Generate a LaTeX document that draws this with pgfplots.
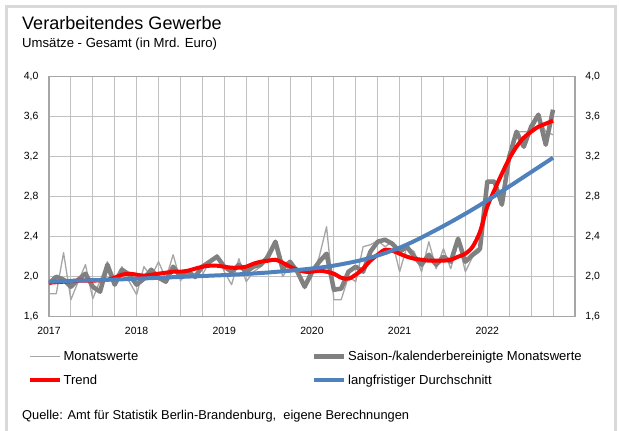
\documentclass[border=0pt]{standalone}
\usepackage{pgfplots}
\pgfplotsset{compat=1.18}
\usepackage{pgfplotstable}
\usepackage{fontspec}
\setmainfont{Liberation Sans}

\definecolor{mwgray}{HTML}{A6A6A6}
\definecolor{sagray}{HTML}{808080}
\definecolor{trred}{HTML}{FF0000}
\definecolor{lfblue}{HTML}{4F81BD}
\definecolor{gridgray}{HTML}{C0C0C0}
\definecolor{axisgray}{HTML}{A6A6A6}
\definecolor{framegray}{HTML}{D9D9D9}

% m = Monat ab Jan 2017; mw = Monatswerte, sa = saison-/kalenderbereinigt,
% tr = Trend, lf = langfristiger Durchschnitt
\pgfplotstableread{
m mw sa tr lf
0 1.83 1.93 1.94 1.950
1 1.83 2.00 1.945 1.953
2 2.24 1.97 1.95 1.956
3 1.77 1.90 1.955 1.959
4 1.95 1.97 1.96 1.961
5 2.12 2.03 1.96 1.963
6 1.78 1.90 1.96 1.965
7 1.96 1.85 1.965 1.967
8 2.15 2.12 1.97 1.969
9 1.98 1.92 1.99 1.972
10 2.10 2.07 2.02 1.974
11 1.95 2.02 2.03 1.977
12 1.82 1.92 2.02 1.980
13 2.10 1.98 2.01 1.983
14 2.00 2.07 2.02 1.986
15 2.15 1.99 2.03 1.989
16 1.98 1.95 2.04 1.992
17 2.22 2.10 2.05 1.995
18 1.96 2.00 2.05 1.998
19 2.05 2.05 2.06 2.001
20 1.98 2.00 2.08 2.004
21 2.02 2.10 2.10 2.007
22 2.15 2.15 2.11 2.010
23 2.22 2.20 2.11 2.013
24 2.05 2.10 2.10 2.016
25 1.92 2.05 2.09 2.020
26 2.18 2.12 2.09 2.024
27 1.95 2.05 2.10 2.028
28 2.05 2.10 2.13 2.032
29 2.10 2.12 2.15 2.037
30 2.25 2.20 2.16 2.042
31 2.30 2.35 2.17 2.048
32 2.00 2.08 2.14 2.054
33 2.12 2.15 2.10 2.060
34 2.05 2.05 2.07 2.067
35 1.88 1.90 2.05 2.074
36 2.00 2.05 2.05 2.082
37 2.20 2.15 2.06 2.090
38 2.50 2.23 2.05 2.100
39 1.77 1.87 2.03 2.111
40 1.77 1.88 1.99 2.124
41 2.00 2.05 1.98 2.138
42 1.95 2.10 2.02 2.153
43 2.30 2.05 2.08 2.170
44 2.32 2.25 2.16 2.190
45 2.36 2.35 2.22 2.212
46 2.30 2.37 2.27 2.236
47 2.35 2.33 2.26 2.262
48 2.05 2.25 2.23 2.290
49 2.30 2.30 2.20 2.322
50 2.25 2.20 2.18 2.356
51 2.05 2.12 2.17 2.392
52 2.35 2.22 2.16 2.430
53 2.08 2.12 2.16 2.468
54 2.28 2.20 2.16 2.507
55 2.08 2.15 2.17 2.547
56 2.35 2.38 2.20 2.588
57 2.05 2.15 2.23 2.630
58 2.20 2.22 2.30 2.673
59 2.25 2.28 2.45 2.717
60 2.95 2.95 2.70 2.762
61 2.95 2.95 2.87 2.808
62 2.80 2.72 3.03 2.855
63 3.25 3.20 3.18 2.902
64 3.45 3.45 3.30 2.950
65 3.45 3.30 3.39 2.998
66 3.45 3.50 3.45 3.046
67 3.60 3.62 3.50 3.094
68 3.45 3.32 3.53 3.142
69 3.42 3.67 3.56 3.190
}\umsatz

\begin{document}
\begin{tikzpicture}[x=1bp,y=1bp]
\path[use as bounding box] (0,0) rectangle (619,430);
\draw[framegray, line width=3bp] (6.5,-5) -- (6.5,423.5) -- (615.5,423.5) -- (615.5,-5);

\node[anchor=base west, inner sep=0pt, font=\fontsize{18.1}{21}\selectfont] at (22,400) {Verarbeitendes Gewerbe};
\node[anchor=base west, inner sep=0pt, font=\fontsize{13.2}{15}\selectfont] at (22,383) {Umsätze - Gesamt (in Mrd. Euro)};
\node[anchor=base west, inner sep=0pt, font=\fontsize{12.9}{15}\selectfont] at (22,11) {Quelle: Amt für Statistik Berlin-Brandenburg,\ \ eigene Berechnungen};

\begin{axis}[
    at={(67,113.3)}, anchor=south west,
    scale only axis, width=526bp, height=240bp,
    xmin=0, xmax=72, ymin=1.6, ymax=4.0,
    xtick={0,12,24,36,48,60},
    xticklabels={2017,2018,2019,2020,2021,2022},
    minor xtick={0,3,...,72},
    ytick={1.6,2.0,2.4,2.8,3.2,3.6,4.0},
    yticklabel pos=left,
    xmajorgrids, xminorgrids, ymajorgrids,
    grid style={gridgray, line width=1bp},
    minor grid style={gridgray, line width=1bp},
    major tick length=0pt, minor tick length=0pt,
    axis line style={axisgray, line width=1.2bp},
    tick label style={font=\fontsize{10.5}{12}\selectfont},
    xticklabel style={yshift=-7bp},
    yticklabel style={xshift=-7bp},
    /pgf/number format/.cd, use comma, fixed, fixed zerofill, precision=1, assume math mode=true,
    /pgfplots/.cd,
    legend columns=2,
    legend cell align=left,
    legend image code/.code={\draw[#1] (0bp,0bp) -- (30bp,0bp);},
    legend style={at={(-0.04,-0.135)}, anchor=north west, draw=none, fill=none,
        inner sep=0pt, row sep=10bp, font=\fontsize{13.1}{15}\selectfont,
        nodes={inner sep=1.5bp}},
]
\addplot[mwgray, line width=1.3bp, line join=round] table[x=m, y=mw] {\umsatz};
\addlegendentry{\makebox[247bp][l]{Monatswerte}}
\addplot[sagray, line width=4.5bp, line join=round] table[x=m, y=sa] {\umsatz};
\addlegendentry{Saison-/kalenderbereinigte Monatswerte}
\addplot[trred, line width=4bp, line join=round, smooth] table[x=m, y=tr] {\umsatz};
\addlegendentry{\makebox[247bp][l]{Trend}}
\addplot[lfblue, line width=4bp, line join=round, smooth] table[x=m, y=lf] {\umsatz};
\addlegendentry{langfristiger Durchschnitt}
\end{axis}

\begin{axis}[
    at={(67,113.3)}, anchor=south west,
    scale only axis, width=526bp, height=240bp,
    xmin=0, xmax=72, ymin=1.6, ymax=4.0,
    axis x line=none, axis y line*=right,
    ytick={1.6,2.0,2.4,2.8,3.2,3.6,4.0},
    major tick length=0pt,
    axis line style={axisgray, line width=1.2bp},
    tick label style={font=\fontsize{10.5}{12}\selectfont},
    yticklabel style={xshift=7bp},
    /pgf/number format/.cd, use comma, fixed, fixed zerofill, precision=1, assume math mode=true,
]
\end{axis}
\end{tikzpicture}
\end{document}
